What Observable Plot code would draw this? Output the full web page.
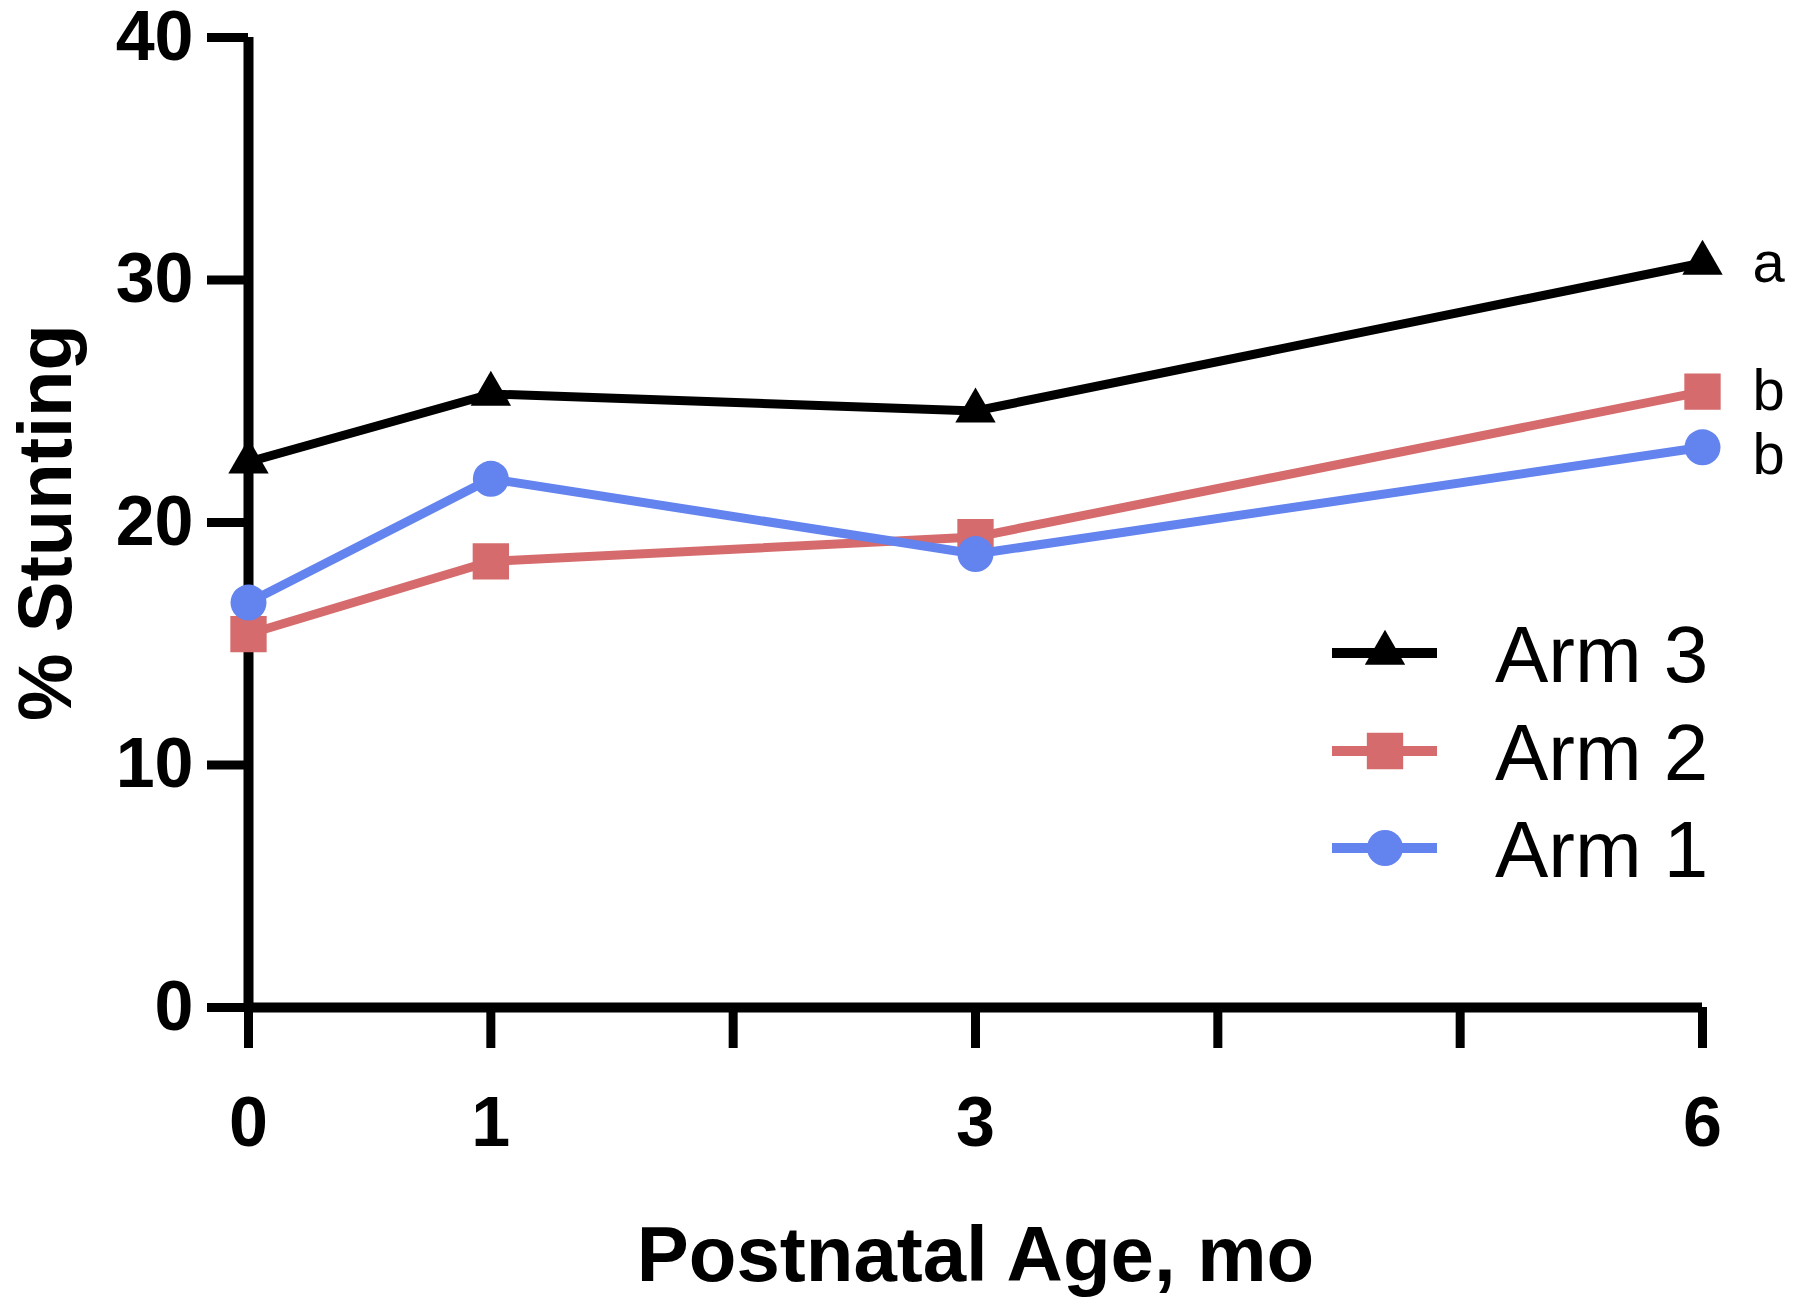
<!DOCTYPE html>
<html>
<head>
<meta charset="utf-8">
<script src="https://cdn.jsdelivr.net/npm/d3@7"></script>
<script src="https://cdn.jsdelivr.net/npm/@observablehq/plot@0.6"></script>
<style>
  html, body { margin: 0; padding: 0; background: #fff; }
  #chart svg { display: block; }
</style>
</head>
<body>
<div id="chart"></div>
<script>
// ---- data ----
const months = [0, 1, 3, 6];
const arm3 = [22.5, 25.3, 24.6, 30.7];
const arm2 = [15.4, 18.4, 19.4, 25.4];
const arm1 = [16.7, 21.8, 18.7, 23.1];
const seriesNames = ["Arm 3", "Arm 2", "Arm 1"];
const seriesColors = ["#000000", "#D56B6C", "#6383EF"];
const seriesSymbols = ["triangle", "square", "circle"];
const sigLetters = ["a", "b", "b"];
const xTicks = [0, 1, 2, 3, 4, 5, 6];
const xTickLabels = [0, 1, 3, 6];
const yTicks = [0, 10, 20, 30, 40];
const xTitle = "Postnatal Age, mo";
const yTitle = "% Stunting";

const seriesValues = [arm3, arm2, arm1];
const rows = [];
seriesNames.forEach((name, i) => {
  months.forEach((m, j) => rows.push({arm: name, month: m, value: seriesValues[i][j]}));
});
const lastRows = seriesNames.map((name, i) => ({arm: name, month: months[months.length - 1], value: seriesValues[i][months.length - 1], letter: sigLetters[i]}));

const lineWidths = [9, 9, 9];
const dotR = [15, 20.5, 18];

const marks = [];
seriesNames.forEach((name, i) => {
  const d = rows.filter(r => r.arm === name);
  marks.push(Plot.line(d, {x: "month", y: "value", stroke: seriesColors[i], strokeWidth: lineWidths[i]}));
  marks.push(Plot.dot(d, {x: "month", y: "value", fill: seriesColors[i], stroke: "none", symbol: seriesSymbols[i], r: dotR[i]}));
});

const chart = Plot.plot({
  width: 1800,
  height: 1309,
  marginLeft: 248,
  marginRight: 98,
  marginTop: 37,
  marginBottom: 302,
  style: {fontFamily: "Liberation Sans, Arial, Helvetica, sans-serif", background: "#fff", overflow: "visible"},
  x: {domain: [0, 6]},
  y: {domain: [0, 40]},
  marks: [
    Plot.axisY({ticks: yTicks, tickSize: 41, tickPadding: 14, strokeWidth: 9, fontSize: 70, fontWeight: "bold", label: null, stroke: "#000", fill: "#000", tickFormat: d => String(d)}),
    Plot.axisX({ticks: xTicks, tickSize: 41, tickPadding: 48, strokeWidth: 9, fontSize: 70, fontWeight: "bold", label: null, stroke: "#000", fill: "#000", tickFormat: d => xTickLabels.includes(d) ? String(d) : ""}),
    Plot.ruleX([0], {stroke: "#000", strokeWidth: 10}),
    Plot.ruleY([0], {stroke: "#000", strokeWidth: 10, x1: 0, x2: 6}),
    Plot.text([yTitle], {frameAnchor: "left", textAnchor: "middle", dx: -202, rotate: -90, fontSize: 76, fontWeight: "bold", fill: "#000"}),
    Plot.text([xTitle], {frameAnchor: "bottom", lineAnchor: "middle", dy: 249, fontSize: 78, fontWeight: "bold", fill: "#000"}),
    ...marks,
    Plot.text(lastRows.slice(0, 2), {x: "month", y: "value", text: "letter", dx: 50, textAnchor: "start", fontSize: 58, fill: "#000"}),
    Plot.text(lastRows.slice(2), {x: "month", y: "value", text: "letter", dx: 50, dy: 8, textAnchor: "start", fontSize: 58, fill: "#000"})
  ]
});

document.getElementById("chart").appendChild(chart);

// ---- legend (drawn inside the plot SVG) ----
const svg = d3.select(chart);
const legendX0 = 1332, legendX1 = 1437, legendMarkX = 1385, legendTextX = 1495;
const legendY = [653, 751, 848];
const g = svg.append("g").attr("class", "legend").attr("text-anchor", "start");
seriesNames.forEach((name, i) => {
  const y = legendY[i];
  g.append("line").attr("x1", legendX0).attr("x2", legendX1).attr("y1", y).attr("y2", y)
    .attr("stroke", seriesColors[i]).attr("stroke-width", 10);
  const sym = {triangle: d3.symbolTriangle, square: d3.symbolSquare, circle: d3.symbolCircle}[seriesSymbols[i]];
  const r = dotR[i];
  g.append("path").attr("d", d3.symbol(sym, Math.PI * r * r)()).attr("transform", `translate(${legendMarkX},${y})`)
    .attr("fill", seriesColors[i]);
  g.append("text").attr("x", legendTextX).attr("y", y).attr("dy", "0.36em").attr("text-anchor", "start")
    .attr("font-size", 80).attr("fill", "#000").text(name);
});
</script>
</body>
</html>
